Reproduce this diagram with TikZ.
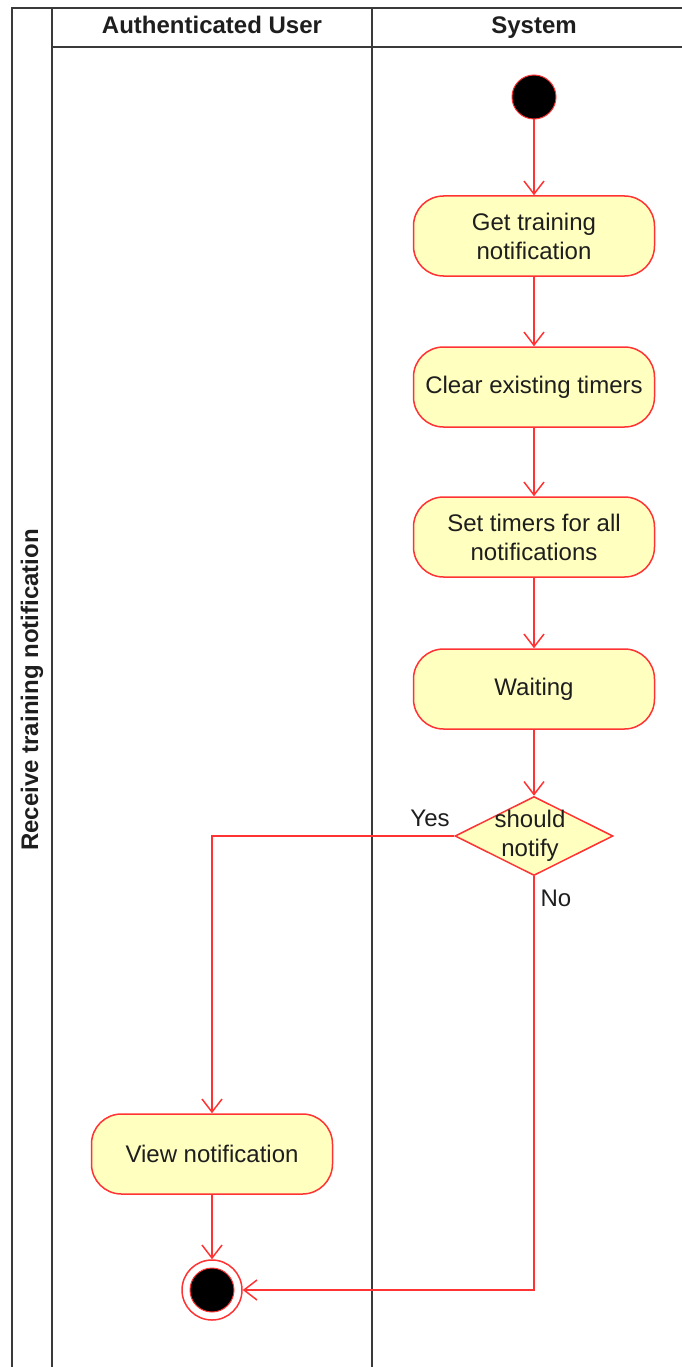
\documentclass[tikz,border=0pt]{standalone}
\usepackage{fontspec}
\setmainfont{Liberation Sans}
\usetikzlibrary{shapes.geometric,arrows.meta}
\definecolor{actfill}{HTML}{FFFFC0}
\definecolor{actline}{HTML}{FF3333}
\definecolor{poolline}{HTML}{3A3A3A}
\definecolor{ink}{HTML}{1E1E1E}
\begin{document}
\begin{tikzpicture}[x=1pt,y=-1pt,
  font=\fontsize{24}{29}\selectfont,
  every node/.style={text=ink},
  action/.style={draw=actline, fill=actfill, line width=1.5pt, rounded corners=30pt,
    minimum width=241pt, minimum height=80pt, align=center, inner sep=2pt},
  decision/.style={draw=actline, fill=actfill, line width=1.5pt, diamond, aspect=2,
    minimum width=158pt, minimum height=79pt, inner sep=0pt},
  flow/.style={draw=actline, line width=1.5pt, -{Straight Barb[length=13pt,width=20pt,line width=1.5pt]}},
  lane/.style={draw=poolline, line width=1.8pt},
  header/.style={font=\fontsize{24}{29}\selectfont\bfseries, text height=17pt, text depth=5pt}
]
\useasboundingbox (0,0) rectangle (682,1367);

% pool and lanes
\draw[lane] (12,1370) -- (12,8) -- (685,8);
\draw[lane] (52,1370) -- (52,8);
\draw[lane] (372,1370) -- (372,8);
\draw[lane] (52,47) -- (685,47);
\node[header, rotate=90] (pool) at (32,690) {Receive training notification};
\node[header] (laneuser) at (212,28) {Authenticated User};
\node[header] (lanesys) at (534,28) {System};

% start
\node[circle, fill=black, draw=actline, line width=1pt, minimum size=44pt, inner sep=0pt] (start) at (534,97) {};

% actions
\node[action] (get) at (534,236) {Get training\\notification};
\node[action] (clear) at (534,387) {Clear existing timers};
\node[action] (set) at (534,537) {Set timers for all\\notifications};
\node[action] (wait) at (534,689) {Waiting};
\node[decision] (dec) at (534,836) {};
\node[align=center] (dectext) at (530,836) {should\\notify};
\node[action] (view) at (212,1154) {View notification};

% end
\node[circle, fill=white, draw=actline, line width=1.5pt, minimum size=60pt, inner sep=0pt] (endout) at (212,1290) {};
\node[circle, fill=black, draw=actline, line width=1pt, minimum size=44pt, inner sep=0pt] (endin) at (212,1290) {};

% flows
\draw[flow] (start) -- (get);
\draw[flow] (get) -- (clear);
\draw[flow] (clear) -- (set);
\draw[flow] (set) -- (wait);
\draw[flow] (wait) -- (dec);
\draw[flow] (dec.west) -| (view.north);
\draw[flow] (dec.south) |- (endout.east);
\draw[flow] (view) -- (endout);

% guards
\node (yes) at (430,818) {Yes};
\node (no) at (556,898) {No};
\end{tikzpicture}
\end{document}
